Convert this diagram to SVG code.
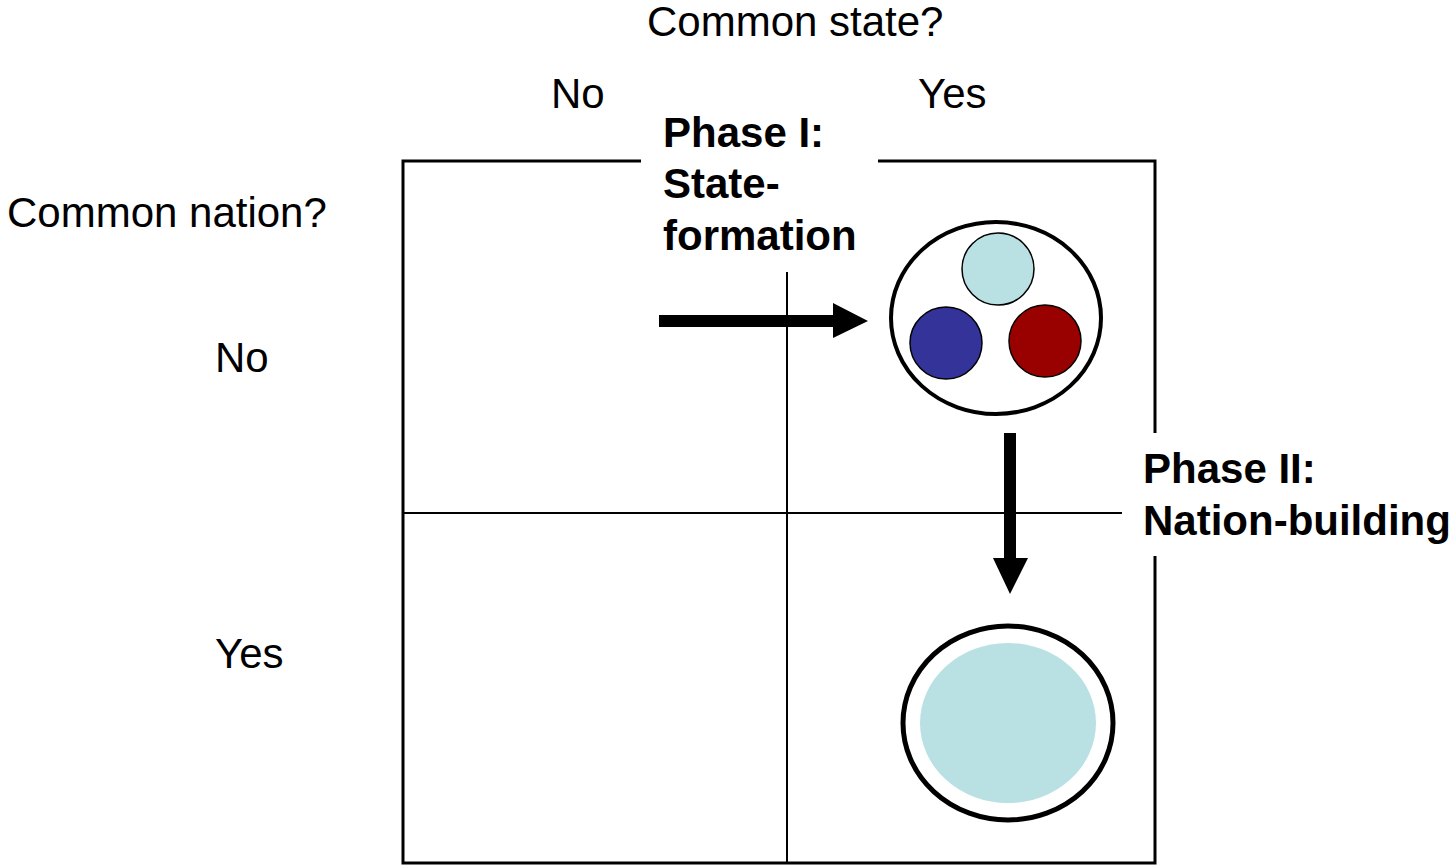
<svg xmlns="http://www.w3.org/2000/svg" width="1456" height="866" viewBox="0 0 1456 866">
<style>
.t{font-family:"Liberation Sans",Arial,sans-serif;font-size:42px;fill:#000}
.b{font-weight:bold}
.grid{stroke:#000;fill:none}
</style>
<rect width="1456" height="866" fill="#fff"/>
<g id="grid">
<path class="grid" stroke-width="3" d="M641,161 H403 V863 H1155 V556 M1155,433 V161 H878"/>
<path class="grid" stroke-width="2" d="M787,272 V863 M403,513 H1122"/>
</g>
<g id="labels">
<text class="t" x="647" y="36">Common state?</text>
<text class="t" x="551" y="108">No</text>
<text class="t" x="918" y="108">Yes</text>
<text class="t" x="7" y="227">Common nation?</text>
<text class="t" x="215" y="372">No</text>
<text class="t" x="215" y="668">Yes</text>
</g>
<g id="phase1-label">
<text class="t b" x="663" y="147">Phase I:</text>
<text class="t b" x="663" y="198">State-</text>
<text class="t b" x="663" y="250">formation</text>
</g>
<g id="phase2-label">
<text class="t b" x="1143" y="483">Phase II:</text>
<text class="t b" x="1143" y="535">Nation-building</text>
</g>
<g id="node-multi">
<ellipse cx="996" cy="318" rx="105" ry="96" fill="#fff" stroke="#000" stroke-width="4"/>
<circle cx="998" cy="269" r="36" fill="#B9E0E3" stroke="#000" stroke-width="1.5"/>
<circle cx="946" cy="343" r="36" fill="#333399" stroke="#000" stroke-width="1.5"/>
<circle cx="1045" cy="341" r="36" fill="#990000" stroke="#000" stroke-width="1.5"/>
</g>
<g id="node-single">
<ellipse cx="1008" cy="723" rx="105" ry="97" fill="#fff" stroke="#000" stroke-width="5"/>
<ellipse cx="1008" cy="723" rx="88" ry="80" fill="#B9E0E3"/>
</g>
<g id="connectors">
<polygon points="659,315 833,315 833,303 868,321 833,338 833,327 659,327" fill="#000"/>
<polygon points="1004,433 1016,433 1016,558 1028,558 1010,594 993,558 1004,558" fill="#000"/>
</g>
</svg>
